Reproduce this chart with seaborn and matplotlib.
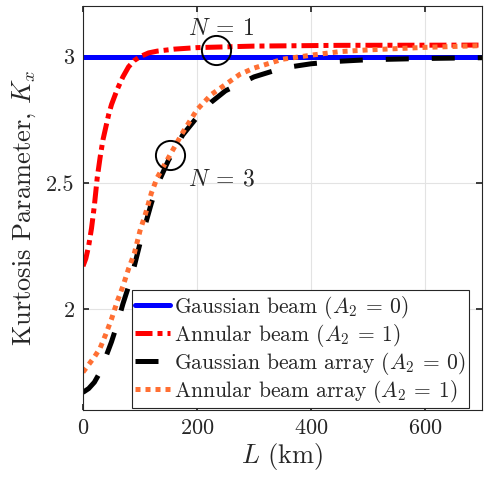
import matplotlib
matplotlib.use("Agg")
import matplotlib.pyplot as plt
import pandas as pd
import seaborn as sns


# distance L (km) and kurtosis values
L_gauss = [0, 700]
K_gauss = [3.0, 3.0]

L_annular = [0, 5, 10, 15, 20, 25, 30, 35, 40, 45, 50, 60, 70, 80, 90, 100,
             115, 130, 160, 200, 300, 450, 700]
K_annular = [2.17, 2.20, 2.25, 2.32, 2.41, 2.52, 2.60, 2.67, 2.72, 2.77, 2.81,
             2.87, 2.92, 2.96, 2.985, 3.0, 3.015, 3.022, 3.03, 3.036, 3.042,
             3.045, 3.046]

L_gauss_arr = [0, 10, 20, 30, 40, 50, 60, 70, 80, 90, 100, 110, 120, 130, 150,
               175, 200, 225, 250, 300, 350, 400, 450, 500, 600, 700]
K_gauss_arr = [1.67, 1.685, 1.71, 1.75, 1.81, 1.87, 1.94, 2.02, 2.09, 2.17,
               2.26, 2.34, 2.42, 2.49, 2.59, 2.69, 2.76, 2.82, 2.865, 2.92,
               2.955, 2.972, 2.982, 2.988, 2.993, 2.996]

L_annular_arr = [0, 10, 20, 30, 40, 50, 60, 70, 80, 90, 100, 110, 120, 130,
                 150, 175, 200, 225, 250, 275, 300, 350, 400, 450, 500, 550,
                 600, 700]
K_annular_arr = [1.75, 1.78, 1.81, 1.845, 1.9, 1.96, 2.03, 2.09, 2.16, 2.22,
                 2.31, 2.38, 2.46, 2.52, 2.6, 2.7, 2.79, 2.85, 2.89, 2.93,
                 2.955, 2.99, 3.006, 3.02, 3.027, 3.032, 3.037, 3.044]

LABELS = [
    r"Gaussian beam ($A_2 \:=\: 0$)",
    r"Annular beam ($A_2 \:=\: 1$)",
    r"Gaussian beam array ($A_2 \:=\: 0$)",
    r"Annular beam array ($A_2 \:=\: 1$)",
]

# circled points and their tags
circle_L = [233, 152]
circle_K = [3.025, 2.61]
circle_text = [r"$N \:=\: 1$", r"$N \:=\: 3$"]

x_ticks = [0, 200, 400, 600]
y_ticks = [2, 2.5, 3]
y_tick_labels = ["2", "2.5", "3"]


def build_frame():
    parts = []
    for lab, xs, ys in zip(LABELS,
                           [L_gauss, L_annular, L_gauss_arr, L_annular_arr],
                           [K_gauss, K_annular, K_gauss_arr, K_annular_arr]):
        parts.append(pd.DataFrame({"L": xs, "K": ys, "series": lab}))
    return pd.concat(parts, ignore_index=True)


sns.set_theme(style="whitegrid")
plt.rcParams.update({
    "font.family": "serif",
    "font.serif": ["cmr10", "DejaVu Serif"],
    "mathtext.fontset": "cm",
    "axes.formatter.use_mathtext": True,
    "axes.edgecolor": "#262626",
    "axes.linewidth": 0.8,
    "grid.color": "#e3e3e3",
    "grid.linewidth": 0.8,
    "xtick.direction": "in",
    "ytick.direction": "in",
    "xtick.top": True,
    "ytick.right": True,
    "xtick.bottom": True,
    "ytick.left": True,
    "xtick.major.size": 4,
    "ytick.major.size": 4,
    "xtick.color": "#262626",
    "ytick.color": "#262626",
})

df = build_frame()

fig = plt.figure(figsize=(4.88, 4.79), dpi=100)
ax = fig.add_axes([0.170, 0.144, 0.818, 0.843])

palette = dict(zip(LABELS, ["#0000ff", "#ff0000", "#000000", "#ff6f33"]))
dashes = dict(zip(LABELS, ["", (3.4, 1.0, 1.0, 1.0), (4.6, 4.6), (1.0, 1.0)]))

sns.lineplot(data=df, x="L", y="K", hue="series", style="series",
             hue_order=LABELS, style_order=LABELS, palette=palette,
             dashes=dashes, linewidth=3.6, sort=True, estimator=None, ax=ax)

ax.plot(circle_L, circle_K, linestyle="none", marker="o", markersize=21,
        markerfacecolor="none", markeredgecolor="black", markeredgewidth=1.4)
ax.text(242, 3.11, circle_text[0], fontsize=17, ha="center", va="center")
ax.text(184, 2.515, circle_text[1], fontsize=17, ha="left", va="center")

ax.set_xlim(0, 700)
ax.set_ylim(1.6, 3.2)
ax.set_xticks(x_ticks)
ax.set_yticks(y_ticks)
ax.set_yticklabels(y_tick_labels)
ax.tick_params(labelsize=16, pad=6)
ax.set_xlabel(r"$L$ (km)", fontsize=19, labelpad=2)
ax.set_ylabel(r"Kurtosis Parameter, $K_x$", fontsize=19, labelpad=6)

leg = ax.legend(loc="lower left", bbox_to_anchor=(0.123, 0.005),
                borderaxespad=0, fontsize=15.5, handlelength=1.6,
                handletextpad=0.2, labelspacing=0.05, borderpad=0.15,
                fancybox=False, framealpha=1, edgecolor="#262626")
leg.get_frame().set_linewidth(0.8)

for sp in ax.spines.values():
    sp.set_visible(True)

fig.savefig("out.png", dpi=100)
